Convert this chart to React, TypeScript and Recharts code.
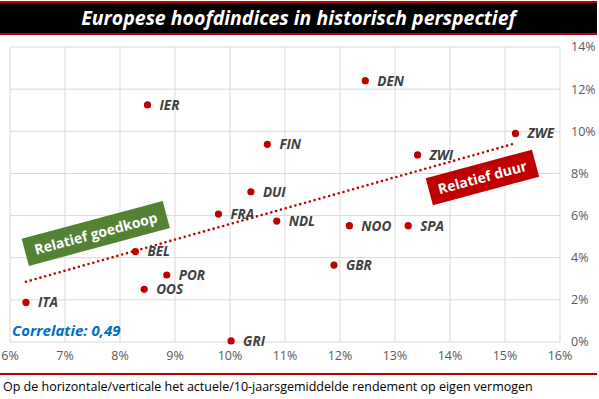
import { ScatterChart, Scatter, XAxis, YAxis, CartesianGrid, ReferenceLine, ReferenceDot } from 'recharts';

// horizontaal: actuele rendement op eigen vermogen, verticaal: 10-jaarsgemiddelde
const landen = ['IER', 'DEN', 'FIN', 'ZWE', 'ZWI', 'DUI', 'FRA', 'NDL', 'NOO', 'SPA', 'BEL', 'GBR', 'POR', 'OOS', 'ITA', 'GRI'];
const actueel = [8.5, 12.46, 10.68, 15.19, 13.41, 10.38, 9.79, 10.85, 12.17, 13.24, 8.28, 11.89, 8.85, 8.44, 6.29, 10.02];
const gemiddeld = [11.25, 12.4, 9.38, 9.9, 8.88, 7.13, 6.07, 5.74, 5.52, 5.52, 4.29, 3.65, 3.18, 2.5, 1.88, 0.05];

const trendX = [6.29, 15.19];
const trendY = [2.86, 9.43];

const xTicks = [6, 7, 8, 9, 10, 11, 12, 13, 14, 15, 16];
const yTicks = [0, 2, 4, 6, 8, 10, 12, 14];

const data = landen.map((naam, i) => ({ naam, x: actueel[i], y: gemiddeld[i] }));

const RED = '#c00000';
const GREEN = '#548235';
const FONT = '"Open Sans", sans-serif';

const pct = (v: number) => `${v}%`;

function Punt(props: any) {
  const { cx, cy, payload } = props;
  return (
    <g>
      <circle cx={cx} cy={cy} r={3.6} fill={RED} />
      <text
        x={cx + 12}
        y={cy}
        dy="0.36em"
        fill="#404040"
        fontFamily={FONT}
        fontSize={13.5}
        fontWeight={700}
        fontStyle="italic"
      >
        {payload.naam}
      </text>
    </g>
  );
}

function labelBox(text: string, fill: string, w: number) {
  return (props: any) => {
    const { cx, cy } = props;
    return (
      <g transform={`rotate(-15 ${cx} ${cy})`}>
        <rect x={cx - w / 2} y={cy - 14} width={w} height={28} fill={fill} />
        <text
          x={cx}
          y={cy}
          dy="0.36em"
          textAnchor="middle"
          fill="#fff"
          fontFamily={FONT}
          fontSize={14}
          fontWeight={700}
        >
          {text}
        </text>
      </g>
    );
  };
}

export default function App() {
  return (
    <div style={{ position: 'absolute', left: 0, top: 0, width: 599, height: 399, background: '#fff', overflow: 'hidden' }}>
      <ScatterChart
        width={599}
        height={372}
        margin={{ top: 47, right: 0, left: 10, bottom: 0 }}
        style={{ position: 'absolute', left: 0, top: 0 }}
      >
        <CartesianGrid stroke="#d9d9d9" />
        <XAxis
          type="number"
          dataKey="x"
          domain={[6, 16]}
          ticks={xTicks}
          tickFormatter={pct}
          axisLine={false}
          tickLine={false}
          tickSize={0}
          tickMargin={9}
          height={30}
          tick={{ fill: '#595959', fontSize: 12.5, fontFamily: FONT }}
          interval={0}
        />
        <YAxis
          type="number"
          dataKey="y"
          orientation="right"
          domain={[0, 14]}
          ticks={yTicks}
          tickFormatter={pct}
          axisLine={false}
          tickLine={false}
          tickSize={0}
          tickMargin={11}
          width={39}
          tick={{ fill: '#595959', fontSize: 12.5, fontFamily: FONT, textAnchor: 'start' }}
          interval={0}
        />
        <ReferenceLine
          segment={[
            { x: trendX[0], y: trendY[0] },
            { x: trendX[1], y: trendY[1] },
          ]}
          stroke={RED}
          strokeWidth={2.6}
          strokeDasharray="0 5"
          strokeLinecap="round"
        />
        <Scatter data={data} shape={Punt} isAnimationActive={false} />
        <ReferenceDot x={7.56} y={5.15} r={1} shape={labelBox('Relatief goedkoop', GREEN, 146)} />
        <ReferenceDot x={14.59} y={7.81} r={1} shape={labelBox('Relatief duur', RED, 110)} />
      </ScatterChart>

      <div
        style={{
          position: 'absolute',
          left: 0,
          top: 1,
          width: 597,
          height: 30,
          background: '#000',
          borderTop: `2px solid ${RED}`,
          borderBottom: `2px solid ${RED}`,
          color: '#fff',
          textAlign: 'center',
          fontFamily: FONT,
          fontWeight: 700,
          fontStyle: 'italic',
          fontSize: 19.5,
          lineHeight: '30px',
        }}
      >
        Europese hoofdindices in historisch perspectief
      </div>

      <div
        style={{
          position: 'absolute',
          left: 12,
          top: 320,
          color: '#0070c0',
          fontFamily: FONT,
          fontWeight: 700,
          fontStyle: 'italic',
          fontSize: 15,
          lineHeight: '20px',
        }}
      >
        Correlatie: 0,49
      </div>

      <div style={{ position: 'absolute', left: 0, top: 373, width: 597, height: 2, background: RED }} />
      <div
        style={{
          position: 'absolute',
          left: 3,
          top: 379,
          color: '#000',
          fontFamily: FONT,
          fontSize: 12.5,
          lineHeight: '16px',
          whiteSpace: 'nowrap',
        }}
      >
        Op de horizontale/verticale het actuele/10-jaarsgemiddelde rendement op eigen vermogen
      </div>
    </div>
  );
}
